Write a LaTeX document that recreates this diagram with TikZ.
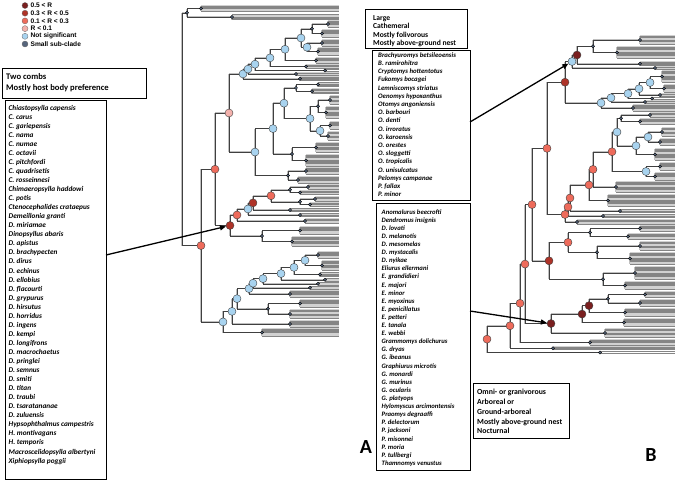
\documentclass[tikz,border=0pt]{standalone}
\usepackage{fontspec}
\setmainfont{Carlito}
\newfontfamily\lgfont{Liberation Sans}
\usetikzlibrary{arrows.meta}
\pgfdeclarelayer{fg}
\pgfsetlayers{main,fg}
\definecolor{cFive}{HTML}{7A1F1F}
\definecolor{cThree}{HTML}{AE3328}
\definecolor{cOne}{HTML}{EE6B5B}
\definecolor{cZero}{HTML}{F3B1AC}
\definecolor{cNs}{HTML}{A8D3EF}
\definecolor{cSm}{HTML}{56657C}
\tikzset{
  br/.style={draw=black!75, line width=0.5pt, preaction={draw=black!25, line width=1.4pt}},
  tp/.style={draw=black!48, line width=0.3pt, preaction={draw=black!18, line width=1.1pt}},
  big/.style={circle, draw=black!75, line width=0.4pt, minimum size=8pt, inner sep=0pt},
  sm/.style={circle, draw=black, line width=0.3pt, fill=cSm, minimum size=3.2pt, inner sep=0pt},
  lgc/.style={circle, draw=black!60, line width=0.3pt, minimum size=6pt, inner sep=0pt},
  lgt/.style={anchor=west, inner sep=0pt, font=\lgfont\bfseries\fontsize{6.6}{7}\selectfont},
  frame/.style={draw=black, line width=0.8pt, fill=white, inner sep=0pt, anchor=north west},
  txt/.style={anchor=north west, align=left, inner sep=0pt},
  arr/.style={-{Triangle[length=6pt,width=5pt]}, line width=1.3pt, black},
  lab/.style={font=\bfseries\fontsize{20}{22}\selectfont, inner sep=0pt}
}
% fan: name, x, y1, y2, (n ignored: density automatic)
\newcommand\fan[5]{%
  \pgfmathsetmacro#1{(#3+#4)/2}%
  \pgfmathtruncatemacro\nn{max(2,(#4-#3)/1.15+1)}%
  \draw[br] (#2,#3) -- (#2,#4);%
  \foreach \k in {1,...,\nn}{%
    \pgfmathsetmacro\yy{#3+(#4-#3)*(\k-1)/(\nn-1)}%
    \draw[tp] (#2,\yy) -- (\tipX,\yy);}%
  \begin{pgfonlayer}{fg}\node[sm] at (#2,#1) {};\end{pgfonlayer}%
}
% internal node: name, x, y upper, x upper, y lower, x lower
\newcommand\inode[6]{%
  \pgfmathsetmacro#1{(#3+#5)/2}%
  \draw[br] (#2,#3) -- (#2,#5) (#2,#3) -- (#4,#3) (#2,#5) -- (#6,#5);%
}
\newcommand\sn[2]{\begin{pgfonlayer}{fg}\node[sm] at (#1,#2) {};\end{pgfonlayer}}
\newcommand\bn[4]{\begin{pgfonlayer}{fg}\node[big,fill=#2] (#1) at (#3,#4) {};\end{pgfonlayer}}
\begin{document}
\begin{tikzpicture}[x=1pt,y=-1pt]
\useasboundingbox (0,0) rectangle (676,483);

% ---------------- legend
\node[lgc,fill=cFive]  (lc1) at (25,5.5) {};  \node[lgt] (lt1) at (30.5,5.5) {0.5 < R};
\node[lgc,fill=cThree] (lc2) at (25,13.2) {}; \node[lgt] (lt2) at (30.5,13.2) {0.3 < R < 0.5};
\node[lgc,fill=cOne]   (lc3) at (25,20.9) {}; \node[lgt] (lt3) at (30.5,20.9) {0.1 < R < 0.3};
\node[lgc,fill=cZero]  (lc4) at (25,28.6) {}; \node[lgt] (lt4) at (30.5,28.6) {R < 0.1};
\node[lgc,fill=cNs]    (lc5) at (25,36.3) {}; \node[lgt] (lt5) at (30.5,36.3) {Not significant};
\node[lgc,fill=cSm]    (lc6) at (25,44)   {}; \node[lgt] (lt6) at (30.5,44)   {Small sub-clade};

% ---------------- left boxes
\node[frame, minimum width=144pt, minimum height=30pt] (boxTA) at (2,68) {};
\node[txt, font=\bfseries\fontsize{8.6}{11.5}\selectfont] (txtTA) at (6,72.8) {Two combs\\Mostly host body preference};
\node[frame, minimum width=101pt, minimum height=379pt] (boxA) at (5,100) {};
\node[txt, font=\bfseries\itshape\fontsize{7.3}{9.05}\selectfont] (listA) at (8.5,104.8) {Chiastopsylla capensis\\C. carus\\C. gariepensis\\C. nama\\C. numae\\C. octavii\\C. pitchfordi\\C. quadrisetis\\C. rosseinnesi\\Chimaeropsylla haddowi\\C. potis\\Ctenocephalides crataepus\\Demeillonia granti\\D. miriamae\\Dinopsyllus abaris\\D. apistus\\D. brachypecten\\D. dirus\\D. echinus\\D. ellobius\\D. flacourti\\D. grypurus\\D. hirsutus\\D. horridus\\D. ingens\\D. kempi\\D. longifrons\\D. macrochaetus\\D. pringlei\\D. semnus\\D. smiti\\D. titan\\D. traubi\\D. tsaratananae\\D. zuluensis\\Hypsophthalmus campestris\\H. montivagans\\H. temporis\\Macroscelidopsylla albertyni\\Xiphiopsylla poggii};

% ---------------- middle boxes
\node[frame, minimum width=102pt, minimum height=39pt] (boxTB) at (365,9) {};
\node[txt, font=\bfseries\fontsize{7.6}{8.3}\selectfont] (txtTB) at (373,15.3) {Large\\Cathemeral\\Mostly folivorous\\Mostly above-ground nest};
\node[frame, minimum width=98pt, minimum height=150.5pt] (boxB1) at (372,49.5) {};
\node[txt, font=\bfseries\itshape\fontsize{6.8}{8.2}\selectfont] (listB1) at (378,52.4) {Brachyuromys betsileoensis\\B. ramirohitra\\Cryptomys hottentotus\\Fukomys bocagei\\Lemniscomys striatus\\Oenomys hypoxanthus\\Otomys angoniensis\\O. barbouri\\O. denti\\O. irroratus\\O. karoensis\\O. orestes\\O. sloggetti\\O. tropicalis\\O. unisulcatus\\Pelomys campanae\\P. fallax\\P. minor};
\node[frame, minimum width=94pt, minimum height=267pt] (boxB2) at (376,203) {};
\node[txt, font=\bfseries\itshape\fontsize{6.7}{8.11}\selectfont] (listB2) at (381.5,209.1) {Anomalurus beecrofti\\Dendromus insignis\\D. lovati\\D. melanotis\\D. mesomelas\\D. mystacalis\\D. nyikae\\Eliurus ellermani\\E. grandidieri\\E. majori\\E. minor\\E. myoxinus\\E. penicillatus\\E. petteri\\E. tanala\\E. webbi\\Grammomys dolichurus\\G. dryas\\G. ibeanus\\Graphiurus microtis\\G. monardi\\G. murinus\\G. ocularis\\G. platyops\\Hylomyscus arcimontensis\\Praomys degraaffi\\P. delectorum\\P. jacksoni\\P. misonnei\\P. moria\\P. tullbergi\\Thamnomys venustus};

% ---------------- bottom right box
\node[frame, minimum width=96pt, minimum height=55pt] (boxBB) at (473,383) {};
\node[txt, font=\bfseries\fontsize{7.8}{9.75}\selectfont] (txtBB) at (477,389.2) {Omni- or granivorous\\Arboreal or\\Ground-arboreal\\Mostly above-ground nest\\Nocturnal};

\node[lab] (labA) at (366,447) {A};
\node[lab] (labB) at (651,455) {B};

% ================= TREE A
\def\tipX{339}
\fan\YtA{201}{6}{11}{4}
\fan\YtB{232}{14.5}{19.5}{4}
\inode\YtC{187}{\YtA}{201}{\YtB}{232}
\sn{187}{\YtC}
% blue clade 1
\fan\YuA{328}{21}{27}{5}
\fan\YuB{322}{30}{37}{5}
\inode\YuC{312}{\YuA}{328}{\YuB}{322}
\sn{312}{\YuC}
\fan\YuD{322}{40}{46}{4}
\fan\YuE{318}{48}{55}{5}
\inode\YbcF{307}{\YuD}{322}{\YuE}{318}
\inode\YbcE{301}{\YuC}{312}{\YbcF}{307}
\fan\YuF{316}{58}{63}{4}
\inode\YbcD{285}{\YbcE}{301}{\YuF}{316}
\fan\YuG{306}{65}{68}{3}
\inode\YbcC{270}{\YbcD}{285}{\YuG}{306}
\fan\YuH{325}{69.5}{71.5}{2}
\inode\YbcB{255}{\YbcC}{270}{\YuH}{325}
\fan\YuI{296}{73}{75}{2}
\inode\YbcA{248}{\YbcB}{255}{\YuI}{296}
\fan\YuJ{300}{77}{80.5}{3}
\inode\YbA{243}{\YbcA}{248}{\YuJ}{300}
% blue clade 2
\fan\YvA{318}{82.5}{86.5}{4}
\fan\YvB{312}{89}{93.5}{4}
\inode\YvC{296}{\YvA}{318}{\YvB}{312}
\sn{296}{\YvC}
\fan\YvD{330}{96}{104}{6}
\fan\YvE{326}{107}{118}{7}
\inode\YvF{318}{\YvD}{330}{\YvE}{326}
\sn{318}{\YvF}
\fan\YvG{330}{122}{129}{5}
\fan\YvH{328}{132}{140}{5}
\inode\YbF{320}{\YvG}{330}{\YvH}{328}
\inode\YbE{310}{\YvF}{318}{\YbF}{320}
\inode\YbD{284}{\YvC}{296}{\YbE}{310}
\fan\YvI{316}{143}{152}{6}
\fan\YvJ{306}{155}{166}{7}
\inode\YvK{292}{\YvI}{316}{\YvJ}{306}
\sn{292}{\YvK}
\inode\YbC{273}{\YbD}{284}{\YvK}{292}
\fan\YvL{306}{168}{174}{5}
\fan\YvM{298}{177}{183}{5}
\inode\YvN{288}{\YvL}{306}{\YvM}{298}
\sn{288}{\YvN}
\inode\YbB{255}{\YbC}{273}{\YvN}{288}
\inode\YpA{229}{\YbA}{243}{\YbB}{255}
% red clade
\fan\YwA{308}{185}{189}{4}
\fan\YwB{300}{191}{194}{3}
\inode\YwC{290}{\YwA}{308}{\YwB}{300}
\sn{290}{\YwC}
\fan\YwD{315}{197}{201}{3}
\fan\YwE{310}{203}{206}{3}
\inode\YwF{300}{\YwD}{315}{\YwE}{310}
\sn{300}{\YwF}
\inode\YrC{271}{\YwC}{290}{\YwF}{300}
\fan\YwG{290}{208.5}{211.5}{3}
\inode\YdB{253}{\YrC}{271}{\YwG}{290}
\fan\YwH{300}{213.5}{216.5}{3}
\inode\YbG{248}{\YdB}{253}{\YwH}{300}
\fan\YwI{305}{219}{223}{3}
\inode\YrB{237}{\YbG}{248}{\YwI}{305}
\fan\YwJ{300}{227}{234}{5}
\fan\YwK{292}{237}{246}{6}
\inode\YwL{262}{\YwJ}{300}{\YwK}{292}
\sn{262}{\YwL}
\inode\YdA{230}{\YrB}{237}{\YwL}{262}
\inode\YrA{215}{\YpA}{229}{\YdA}{230}
% bottom blue clade
\fan\YxA{318}{252}{258}{5}
\fan\YxB{322}{261}{270}{6}
\inode\YbbH{305}{\YxA}{318}{\YxB}{322}
\fan\YxC{320}{272.5}{276.5}{3}
\inode\YbbG{294}{\YbbH}{305}{\YxC}{320}
\fan\YxD{325}{278.5}{281}{2}
\inode\YbbF{281}{\YbbG}{294}{\YxD}{325}
\fan\YxE{318}{282.5}{285}{2}
\inode\YbbE{263}{\YbbF}{281}{\YxE}{318}
\fan\YxF{310}{286.5}{289}{2}
\inode\YbbD{253}{\YbbE}{263}{\YxF}{310}
\fan\YxG{290}{291}{297}{4}
\inode\YbbC{249}{\YbbD}{253}{\YxG}{290}
\fan\YxH{300}{300}{307}{5}
\fan\YxI{290}{310}{318}{5}
\inode\YxJ{268}{\YxH}{300}{\YxI}{290}
\sn{268}{\YxJ}
\inode\YbbB{237}{\YbbC}{249}{\YxJ}{268}
\fan\YxK{290}{321}{327}{4}
\inode\YbbA{232}{\YbbB}{237}{\YxK}{290}
\fan\YxL{262}{329}{336}{5}
\inode\YnC{223}{\YbbA}{232}{\YxL}{262}
\inode\YnA{201}{\YrA}{215}{\YnC}{223}
\inode\YrootA{182}{\YtC}{187}{\YnA}{201}
% circles A
\bn{nA}{cOne}{201}{\YnA}
\bn{nB}{cOne}{215}{\YrA}
\bn{nP}{cZero}{229}{\YpA}
\bn{bA}{cNs}{243}{\YbA}
\bn{bcA}{cNs}{248}{\YbcA}
\bn{bcB}{cNs}{255}{\YbcB}
\bn{bcC}{cNs}{270}{\YbcC}
\bn{bcD}{cNs}{285}{\YbcD}
\bn{bcE}{cNs}{301}{\YbcE}
\bn{bcF}{cNs}{307}{\YbcF}
\bn{bB}{cNs}{255}{\YbB}
\bn{bC}{cNs}{273}{\YbC}
\bn{bD}{cNs}{284}{\YbD}
\bn{bE}{cNs}{310}{\YbE}
\bn{bF}{cNs}{320}{\YbF}
\bn{dA}{cThree}{230}{\YdA}
\bn{rB}{cOne}{237}{\YrB}
\bn{bG}{cNs}{248}{\YbG}
\bn{dB}{cThree}{253}{\YdB}
\bn{rC}{cOne}{271}{\YrC}
\bn{nC}{cNs}{223}{\YnC}
\bn{bbA}{cNs}{232}{\YbbA}
\bn{bbB}{cNs}{237}{\YbbB}
\bn{bbC}{cNs}{249}{\YbbC}
\bn{bbD}{cNs}{253}{\YbbD}
\bn{bbE}{cNs}{263}{\YbbE}
\bn{bbF}{cNs}{281}{\YbbF}
\bn{bbG}{cNs}{294}{\YbbG}
\bn{bbH}{cNs}{305}{\YbbH}

% ================= TREE B
\def\tipX{675}
\fan\ZaA{640}{36}{44}{5}
\fan\ZaB{617}{47}{58}{6}
\inode\ZaC{593}{\ZaA}{640}{\ZaB}{617}
\sn{593}{\ZaC}
\fan\ZaD{640}{62}{65.5}{3}
\inode\ZdA{577}{\ZaC}{593}{\ZaD}{640}
\fan\ZaE{655}{67}{69}{2}
\inode\ZbA{572}{\ZdA}{577}{\ZaE}{655}
\fan\ZcA{662}{71}{82}{7}
\fan\ZcB{664}{85}{92}{4}
\inode\ZchE{650}{\ZcA}{662}{\ZcB}{664}
\fan\ZcC{660}{94}{96}{2}
\inode\ZchD{639}{\ZchE}{650}{\ZcC}{660}
\fan\ZcD{652}{97.5}{99.5}{2}
\inode\ZchC{628}{\ZchD}{639}{\ZcD}{652}
\fan\ZcE{645}{101}{103}{2}
\inode\ZchB{611}{\ZchC}{628}{\ZcE}{645}
\fan\ZcF{633}{105}{111}{4}
\inode\ZchA{601}{\ZchB}{611}{\ZcF}{633}
\inode\ZrK{565}{\ZbA}{572}{\ZchA}{601}
\fan\ZqA{650}{113}{117}{3}
\fan\ZqB{640}{119}{124}{4}
\inode\ZqC{621}{\ZqA}{650}{\ZqB}{640}
\sn{621}{\ZqC}
\fan\ZqD{662}{128}{136}{5}
\fan\ZqE{660}{139}{145}{4}
\inode\ZbqD{648}{\ZqD}{662}{\ZqE}{660}
\fan\ZqF{655}{149}{160}{7}
\inode\ZbqC{636}{\ZbqD}{648}{\ZqF}{655}
\inode\ZbqA{617}{\ZqC}{621}{\ZbqC}{636}
\fan\ZqG{660}{163}{170}{5}
\fan\ZqH{655}{173}{180}{5}
\inode\ZbqB{646}{\ZqG}{660}{\ZqH}{655}
\inode\ZrQ{612}{\ZbqA}{617}{\ZbqB}{646}
\fan\ZqI{616}{182}{192}{7}
\inode\ZrP{593}{\ZrQ}{612}{\ZqI}{616}
\fan\ZqJ{608}{195}{206}{7}
\inode\ZrO{589}{\ZrP}{593}{\ZqJ}{608}
\fan\ZqK{620}{209.5}{212.5}{3}
\inode\ZrN{570}{\ZrO}{589}{\ZqK}{620}
\fan\ZqL{603}{214.5}{217.5}{3}
\inode\ZrM{568}{\ZrN}{570}{\ZqL}{603}
\fan\ZqM{577}{220}{224}{4}
\inode\ZrL{565}{\ZrM}{568}{\ZqM}{577}
\inode\ZrF{547}{\ZrK}{565}{\ZrL}{565}
\fan\ZsA{640}{226}{231}{4}
\fan\ZsB{628}{234}{239}{4}
\inode\ZsC{590}{\ZsA}{640}{\ZsB}{628}
\sn{590}{\ZsC}
\fan\ZsD{640}{242}{250}{5}
\fan\ZsE{630}{253}{264}{7}
\inode\ZsF{597}{\ZsD}{640}{\ZsE}{630}
\sn{597}{\ZsF}
\inode\ZrJ{568}{\ZsC}{590}{\ZsF}{597}
\fan\ZsG{635}{267}{279}{7}
\fan\ZsH{625}{282}{289}{4}
\inode\ZsI{603}{\ZsG}{635}{\ZsH}{625}
\sn{603}{\ZsI}
\inode\ZdI{549}{\ZrJ}{568}{\ZsI}{603}
\inode\ZrE{532}{\ZrF}{547}{\ZdI}{549}
\fan\ZtA{645}{292}{297}{5}
\fan\ZtB{640}{300}{306}{4}
\inode\ZtC{608}{\ZtA}{645}{\ZtB}{640}
\sn{608}{\ZtC}
\fan\ZtD{625}{309}{316}{5}
\inode\ZdH{589}{\ZtC}{608}{\ZtD}{625}
\fan\ZtE{624}{319}{326}{5}
\inode\ZdG{582}{\ZdH}{589}{\ZtE}{624}
\fan\ZtF{605}{329}{337}{6}
\inode\ZdF{551}{\ZdG}{582}{\ZtF}{605}
\inode\ZrD{525}{\ZrE}{532}{\ZdF}{551}
\fan\ZtG{590}{340}{345}{4}
\inode\ZrC{520}{\ZrD}{525}{\ZtG}{590}
\fan\ZtH{553}{347}{349.5}{2}
\inode\ZrB{510}{\ZrC}{520}{\ZtH}{553}
\fan\ZtI{600}{351.5}{353.5}{2}
\inode\ZrA{487}{\ZrB}{510}{\ZtI}{600}
% circles B
\bn{zbA}{cNs}{572}{\ZbA}
\bn{zdA}{cFive}{577}{\ZdA}
\bn{zrK}{cThree}{565}{\ZrK}
\bn{zchA}{cNs}{601}{\ZchA}
\bn{zchB}{cNs}{611}{\ZchB}
\bn{zchC}{cNs}{628}{\ZchC}
\bn{zchD}{cNs}{639}{\ZchD}
\bn{zchE}{cNs}{650}{\ZchE}
\bn{zbqA}{cNs}{617}{\ZbqA}
\bn{zbqB}{cNs}{646}{\ZbqB}
\bn{zbqC}{cNs}{636}{\ZbqC}
\bn{zbqD}{cNs}{648}{\ZbqD}
\bn{zrQ}{cOne}{612}{\ZrQ}
\bn{zrP}{cOne}{593}{\ZrP}
\bn{zrO}{cOne}{589}{\ZrO}
\bn{zrN}{cOne}{570}{\ZrN}
\bn{zrM}{cOne}{568}{\ZrM}
\bn{zrL}{cOne}{565}{\ZrL}
\bn{zrF}{cOne}{547}{\ZrF}
\bn{zrE}{cOne}{532}{\ZrE}
\bn{zrJ}{cOne}{568}{\ZrJ}
\bn{zdI}{cThree}{549}{\ZdI}
\bn{zdH}{cFive}{589}{\ZdH}
\bn{zdG}{cFive}{582}{\ZdG}
\bn{zdF}{cFive}{551}{\ZdF}
\bn{zrD}{cOne}{525}{\ZrD}
\bn{zrC}{cOne}{520}{\ZrC}
\bn{zrB}{cOne}{510}{\ZrB}
\bn{zrA}{cOne}{487}{\ZrA}

% ================= arrows
\coordinate (sA) at (106,255);
\coordinate (sB1) at (470,122);
\coordinate (sB2) at (470,311);
\begin{pgfonlayer}{fg}
\draw[arr] (sA) -- (dA);
\draw[arr] (sB1) -- (zbA);
\draw[arr] (sB2) -- (zdF);
\end{pgfonlayer}
\end{tikzpicture}
\end{document}
